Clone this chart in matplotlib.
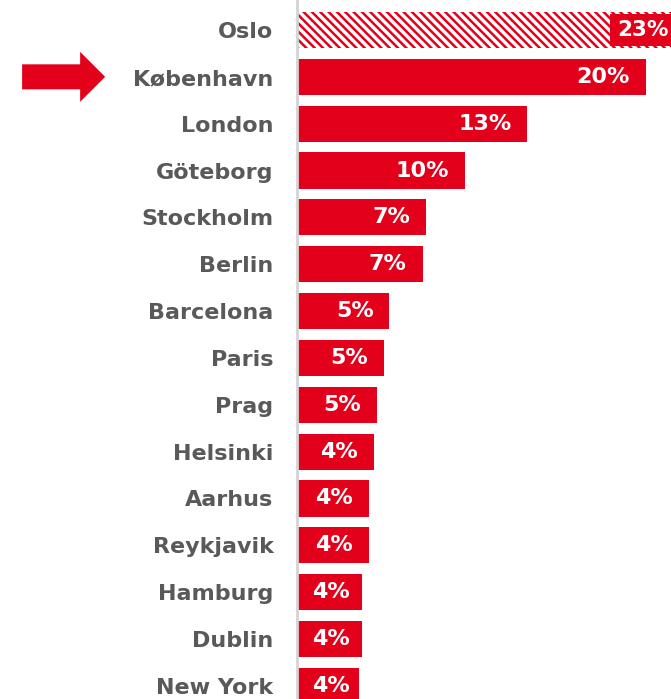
import matplotlib.pyplot as plt
import numpy as np

cities = ["Oslo", "København", "London", "Göteborg", "Stockholm", "Berlin",
          "Barcelona", "Paris", "Prag", "Helsinki", "Aarhus", "Reykjavik",
          "Hamburg", "Dublin", "New York"]
shares = [23, 20.0, 13.2, 9.6, 7.4, 7.2, 5.3, 5.0, 4.6, 4.4, 4.1, 4.1, 3.7, 3.7, 3.55]
labels = ["23%", "20%", "13%", "10%", "7%", "7%", "5%", "5%", "5%",
          "4%", "4%", "4%", "4%", "4%", "4%"]
highlight = "København"

red = "#e2001a"
grey = "#595959"

plt.rcParams["font.family"] = ["DejaVu Sans"]
plt.rcParams["hatch.linewidth"] = 1.8
plt.rcParams["hatch.color"] = red

fig = plt.figure(figsize=(6.71, 6.99), dpi=100)
ax = fig.add_axes([297 / 671, 0, 1 - 297 / 671, 1])

y = np.arange(len(cities))
bars = ax.barh(y, shares, height=0.77, color=red, linewidth=0)

# first bar is hatched
bars[0].set_facecolor("white")
bars[0].set_edgecolor(red)
bars[0].set_hatch("\\\\\\\\")

ax.set_xlim(0, 21.43)
ax.set_ylim(14.28, -0.64)

for i, (v, lab) in enumerate(zip(shares, labels)):
    if v > ax.get_xlim()[1]:
        # bar runs off the edge: label on a solid box at the right edge
        ax.annotate(lab, xy=(1, i), xycoords=("axes fraction", "data"),
                    xytext=(-2, 0), textcoords="offset points",
                    ha="right", va="center", color="white",
                    fontsize=15.5, fontweight="bold",
                    bbox=dict(boxstyle="square,pad=0.3", fc=red, ec="none"))
    else:
        ax.annotate(lab, xy=(max(v, 3.95), i), xytext=(-11.5, 0),
                    textcoords="offset points", ha="right", va="center",
                    color="white", fontsize=16, fontweight="bold")

ax.set_yticks(y)
ax.set_yticklabels(cities, fontsize=16, fontweight="bold", color=grey)
ax.tick_params(axis="y", length=0, pad=17)
ax.set_xticks([])

for s in ["top", "right", "bottom"]:
    ax.spines[s].set_visible(False)
ax.spines["left"].set_color("#d4d4d4")
ax.spines["left"].set_linewidth(2)

# arrow pointing at the highlighted city
hi = cities.index(highlight)
ax.annotate("", xy=(-0.513, hi), xytext=(-0.735, hi),
            xycoords=("axes fraction", "data"),
            textcoords=("axes fraction", "data"),
            arrowprops=dict(arrowstyle="simple,head_length=1.0,head_width=2.0,tail_width=1.0",
                            mutation_scale=18, color=red, lw=0,
                            shrinkA=0, shrinkB=0),
            annotation_clip=False)

fig.savefig("out.png", dpi=100)
